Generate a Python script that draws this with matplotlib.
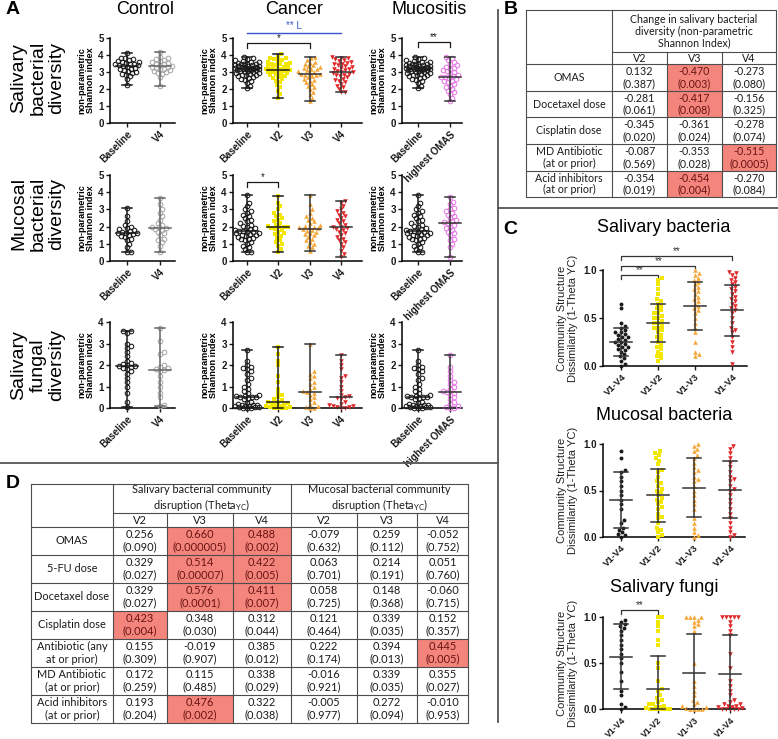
import numpy as np
import matplotlib
matplotlib.use('Agg')
import matplotlib.pyplot as plt
from matplotlib.patches import Rectangle

plt.rcParams['font.family'] = ['Liberation Sans', 'DejaVu Sans']
plt.rcParams['mathtext.fontset'] = 'custom'
plt.rcParams['mathtext.rm'] = 'Lato'

W, H = 778, 739

# ---------------- panel A data (non-parametric Shannon index) ----------------
ctrl_sal_base = [2.25, 2.6, 2.75, 2.85, 2.9, 2.95, 3.0, 3.05, 3.1, 3.15, 3.2, 3.25, 3.3, 3.35, 3.4,
                 3.4, 3.45, 3.5, 3.5, 3.55, 3.6, 3.6, 3.65, 3.7, 3.75, 3.8, 3.85, 4.1]
ctrl_sal_v4 = [2.2, 2.7, 2.9, 2.95, 3.0, 3.05, 3.1, 3.15, 3.2, 3.25, 3.3, 3.3, 3.35, 3.4, 3.45,
               3.5, 3.55, 3.6, 3.65, 3.7, 3.75, 3.8, 3.9, 4.15]
canc_sal_base = [2.05, 2.2, 2.35, 2.45, 2.55, 2.6, 2.65, 2.7, 2.75, 2.8, 2.85, 2.85, 2.9, 2.95, 2.95,
                 3.0, 3.0, 3.05, 3.05, 3.1, 3.1, 3.1, 3.15, 3.15, 3.15, 3.2, 3.2, 3.2, 3.25, 3.25,
                 3.25, 3.3, 3.3, 3.3, 3.35, 3.35, 3.35, 3.4, 3.4, 3.45, 3.45, 3.5, 3.5, 3.55, 3.6,
                 3.6, 3.65, 3.7, 3.75, 3.8, 3.9]
canc_sal_v2 = [1.5, 1.7, 1.9, 2.1, 2.25, 2.4, 2.5, 2.6, 2.65, 2.7, 2.75, 2.8, 2.85, 2.9, 2.95, 3.0,
               3.0, 3.05, 3.05, 3.1, 3.1, 3.1, 3.15, 3.15, 3.2, 3.2, 3.25, 3.3, 3.3, 3.35, 3.4, 3.45,
               3.5, 3.5, 3.55, 3.6, 3.65, 3.7, 3.75, 3.8, 3.85, 3.9, 4.05]
canc_sal_v3 = [1.3, 1.5, 1.7, 1.85, 2.0, 2.1, 2.2, 2.3, 2.4, 2.5, 2.55, 2.6, 2.7, 2.75, 2.8, 2.85,
               2.9, 2.9, 2.95, 3.0, 3.05, 3.1, 3.15, 3.2, 3.25, 3.3, 3.35, 3.4, 3.5, 3.55, 3.6,
               3.7, 3.8, 3.9]
canc_sal_v4 = [1.8, 1.85, 2.0, 2.1, 2.2, 2.3, 2.4, 2.5, 2.55, 2.6, 2.7, 2.75, 2.8, 2.85, 2.9, 2.95,
               3.0, 3.0, 3.05, 3.1, 3.15, 3.2, 3.25, 3.3, 3.35, 3.4, 3.45, 3.5, 3.55, 3.6, 3.65,
               3.7, 3.75, 3.8, 3.85, 3.9]
muc_sal_high = [1.3, 1.5, 1.7, 1.8, 1.9, 2.0, 2.1, 2.2, 2.3, 2.4, 2.45, 2.5, 2.6, 2.65, 2.7, 2.7,
                2.75, 2.8, 2.9, 3.0, 3.05, 3.1, 3.2, 3.25, 3.3, 3.4, 3.5, 3.6, 3.7, 3.8, 3.9]

ctrl_muc_base = [0.5, 0.55, 0.8, 1.0, 1.2, 1.3, 1.4, 1.45, 1.5, 1.55, 1.6, 1.65, 1.65, 1.7, 1.75,
                 1.8, 1.85, 1.9, 2.0, 2.1, 2.3, 2.6, 3.1]
ctrl_muc_v4 = [0.5, 0.9, 1.1, 1.2, 1.3, 1.5, 1.6, 1.7, 1.8, 1.85, 1.9, 1.95, 2.0, 2.1, 2.2, 2.4,
               2.6, 2.8, 3.0, 3.3, 3.65]
canc_muc_base = [0.5, 0.55, 0.7, 0.8, 0.9, 1.0, 1.1, 1.2, 1.25, 1.3, 1.35, 1.4, 1.45, 1.5, 1.5,
                 1.55, 1.6, 1.65, 1.7, 1.7, 1.75, 1.75, 1.8, 1.85, 1.9, 2.0, 2.05, 2.1, 2.2, 2.3,
                 2.4, 2.5, 2.6, 2.7, 2.8, 2.9, 3.0, 3.2, 3.4, 3.85]
canc_muc_v2 = [0.55, 0.7, 0.9, 1.0, 1.1, 1.2, 1.35, 1.45, 1.55, 1.6, 1.7, 1.8, 1.85, 1.9, 1.95, 2.0,
               2.0, 2.05, 2.1, 2.2, 2.3, 2.4, 2.5, 2.6, 2.7, 2.8, 3.0, 3.2, 3.4, 3.8]
canc_muc_v3 = [0.6, 0.8, 0.9, 1.0, 1.1, 1.2, 1.3, 1.4, 1.5, 1.55, 1.6, 1.7, 1.75, 1.8, 1.85, 1.9,
               1.95, 1.95, 2.0, 2.05, 2.1, 2.2, 2.3, 2.4, 2.5, 2.6, 2.8, 3.0, 3.3, 3.85]
canc_muc_v4 = [0.25, 0.4, 0.6, 0.8, 1.0, 1.1, 1.2, 1.3, 1.4, 1.5, 1.6, 1.7, 1.8, 1.85, 1.9, 2.0,
               2.0, 2.1, 2.2, 2.3, 2.4, 2.5, 2.6, 2.7, 2.8, 2.9, 3.0, 3.2, 3.4, 3.5]
muc_muc_high = [0.25, 0.8, 1.0, 1.2, 1.3, 1.5, 1.6, 1.7, 1.8, 1.9, 2.0, 2.1, 2.2, 2.25, 2.3, 2.4,
                2.5, 2.6, 2.7, 2.8, 2.9, 3.0, 3.1, 3.3, 3.45, 3.7]

ctrl_fun_base = [0.05, 0.3, 0.7, 1.0, 1.2, 1.4, 1.6, 1.7, 1.8, 1.85, 1.9, 1.95, 1.95, 2.0, 2.05,
                 2.1, 2.2, 2.4, 2.6, 2.8, 2.9, 3.0, 3.5, 3.6, 3.6]
ctrl_fun_v4 = [0.1, 0.15, 0.5, 0.7, 1.0, 1.2, 1.5, 1.7, 1.75, 1.8, 1.85, 1.9, 2.0, 2.5, 2.6, 3.1, 3.7]
canc_fun_base = [0.0, 0.0, 0.02, 0.03, 0.05, 0.05, 0.08, 0.1, 0.1, 0.12, 0.15, 0.15, 0.2, 0.25, 0.3,
                 0.4, 0.45, 0.5, 0.5, 0.5, 0.55, 0.55, 0.6, 0.7, 0.8, 0.9, 1.0, 1.1, 1.3, 1.4, 1.6,
                 1.7, 1.8, 1.85, 1.9, 2.0, 2.2, 2.7]
canc_fun_v2 = [0.0, 0.0, 0.0, 0.02, 0.05, 0.05, 0.08, 0.1, 0.12, 0.15, 0.2, 0.25, 0.3, 0.3, 0.35,
               0.4, 0.5, 0.6, 0.7, 0.9, 1.2, 1.5, 2.0, 2.2, 2.5, 2.85]
canc_fun_v3 = [0.0, 0.02, 0.05, 0.1, 0.2, 0.3, 0.4, 0.5, 0.6, 0.7, 0.75, 0.8, 0.9, 1.0, 1.1, 1.2,
               1.4, 1.5, 1.6, 1.7, 3.0]
canc_fun_v4 = [0.0, 0.0, 0.03, 0.05, 0.08, 0.1, 0.15, 0.2, 0.3, 0.4, 0.45, 0.5, 0.55, 0.6, 0.8, 1.0,
               1.2, 1.4, 1.5, 1.8, 2.0, 2.2, 2.45]
muc_fun_high = [0.0, 0.02, 0.05, 0.1, 0.2, 0.3, 0.4, 0.5, 0.6, 0.7, 0.75, 0.8, 0.9, 1.0, 1.1, 1.2,
                1.3, 1.5, 1.7, 1.9, 2.45]

ctrl_labels = ['Baseline', 'V4']
canc_labels = ['Baseline', 'V2', 'V3', 'V4']
muc_labels = ['Baseline', 'highest OMAS']

# ---------------- panel C data (1 - Theta YC) ----------------
c_labels = ['V1-V4', 'V1-V2', 'V1-V3', 'V1-V4']
sal_ctrl = [0.0, 0.02, 0.05, 0.08, 0.1, 0.12, 0.15, 0.17, 0.18, 0.2, 0.2, 0.22, 0.23, 0.25, 0.25,
            0.27, 0.28, 0.3, 0.3, 0.32, 0.33, 0.35, 0.35, 0.37, 0.4, 0.42, 0.45, 0.6, 0.65]
sal_v12 = [0.05, 0.08, 0.1, 0.12, 0.15, 0.18, 0.2, 0.22, 0.25, 0.28, 0.3, 0.32, 0.35, 0.37, 0.4,
           0.4, 0.42, 0.45, 0.45, 0.47, 0.5, 0.5, 0.52, 0.55, 0.55, 0.58, 0.6, 0.62, 0.65, 0.68,
           0.7, 0.75, 0.8, 0.85, 0.9, 0.92]
sal_v13 = [0.1, 0.12, 0.15, 0.25, 0.35, 0.4, 0.45, 0.5, 0.55, 0.58, 0.6, 0.62, 0.65, 0.68, 0.7,
           0.72, 0.75, 0.78, 0.8, 0.82, 0.85, 0.88, 0.9, 0.92, 0.95, 0.97, 1.0]
sal_v14 = [0.02, 0.15, 0.2, 0.25, 0.3, 0.35, 0.38, 0.4, 0.45, 0.5, 0.55, 0.58, 0.6, 0.62, 0.65,
           0.68, 0.7, 0.72, 0.75, 0.78, 0.8, 0.82, 0.85, 0.88, 0.9, 0.92, 0.95, 0.97, 0.98]
sal_mean = [0.25, 0.45, 0.62, 0.58]
sal_lo = [0.10, 0.25, 0.37, 0.31]
sal_hi = [0.40, 0.65, 0.88, 0.84]

mucb_ctrl = [0.0, 0.02, 0.03, 0.05, 0.08, 0.1, 0.15, 0.18, 0.3, 0.35, 0.4, 0.45, 0.5, 0.55, 0.6,
             0.65, 0.7, 0.72, 0.85, 0.92]
mucb_v12 = [0.0, 0.02, 0.05, 0.08, 0.1, 0.15, 0.2, 0.22, 0.25, 0.3, 0.32, 0.35, 0.38, 0.4, 0.42,
            0.45, 0.48, 0.5, 0.52, 0.55, 0.58, 0.6, 0.65, 0.7, 0.72, 0.78, 0.82, 0.85, 0.88, 0.9, 0.92]
mucb_v13 = [0.0, 0.02, 0.05, 0.1, 0.15, 0.2, 0.3, 0.35, 0.4, 0.45, 0.5, 0.55, 0.6, 0.62, 0.65,
            0.7, 0.72, 0.75, 0.8, 0.85, 0.88, 0.92, 0.95, 0.98, 1.0]
mucb_v14 = [0.0, 0.02, 0.05, 0.1, 0.15, 0.2, 0.25, 0.3, 0.35, 0.4, 0.45, 0.5, 0.52, 0.55, 0.6,
            0.62, 0.65, 0.7, 0.75, 0.8, 0.85, 0.9, 0.95, 0.98]
mucb_mean = [0.40, 0.45, 0.53, 0.51]
mucb_lo = [0.10, 0.16, 0.21, 0.20]
mucb_hi = [0.70, 0.73, 0.85, 0.82]

fun_ctrl = [0.0, 0.02, 0.05, 0.15, 0.2, 0.3, 0.4, 0.5, 0.55, 0.6, 0.65, 0.7, 0.75, 0.8, 0.85,
            0.88, 0.9, 0.92, 0.95, 0.97]
fun_v12 = [0.0, 0.0, 0.0, 0.0, 0.0, 0.0, 0.01, 0.02, 0.02, 0.03, 0.05, 0.05, 0.08, 0.1, 0.12,
           0.15, 0.2, 0.22, 0.3, 0.45, 0.5, 0.7, 0.75, 0.85, 0.9, 0.95, 1.0, 1.0]
fun_v13 = [0.0, 0.0, 0.0, 0.0, 0.01, 0.02, 0.03, 0.05, 0.08, 0.1, 0.15, 0.2, 0.25, 0.3, 0.5,
           0.85, 0.9, 0.92, 0.95, 0.97, 1.0, 1.0, 1.0, 1.0]
fun_v14 = [0.0, 0.0, 0.0, 0.0, 0.0, 0.01, 0.02, 0.02, 0.03, 0.03, 0.05, 0.05, 0.08, 0.1, 0.15,
           0.2, 0.25, 0.3, 0.45, 0.6, 0.8, 0.85, 0.9, 0.95, 1.0, 1.0, 1.0, 1.0, 1.0]
fun_mean = [0.57, 0.22, 0.39, 0.38]
fun_lo = [0.22, 0.0, 0.0, 0.0]
fun_hi = [0.92, 0.58, 0.81, 0.80]

# ---------------- table B ----------------
b_cols = ['V2', 'V3', 'V4']
b_rows = ['OMAS', 'Docetaxel dose', 'Cisplatin dose', 'MD Antibiotic\n(at or prior)',
          'Acid inhibitors\n(at or prior)']
b_r = [['0.132', '-0.470', '-0.273'], ['-0.281', '-0.417', '-0.156'], ['-0.345', '-0.361', '-0.278'],
       ['-0.087', '-0.353', '-0.515'], ['-0.354', '-0.454', '-0.270']]
b_p = [['0.387', '0.003', '0.080'], ['0.061', '0.008', '0.325'], ['0.020', '0.024', '0.074'],
       ['0.569', '0.028', '0.0005'], ['0.019', '0.004', '0.084']]

# ---------------- table D ----------------
d_cols = ['V2', 'V3', 'V4', 'V2', 'V3', 'V4']
d_rows = ['OMAS', '5-FU dose', 'Docetaxel dose', 'Cisplatin dose', 'Antibiotic (any\nat or prior)',
          'MD Antibiotic\n(at or prior)', 'Acid inhibitors\n(at or prior)']
d_r = [['0.256', '0.660', '0.488', '-0.079', '0.259', '-0.052'],
       ['0.329', '0.514', '0.422', '0.063', '0.214', '0.051'],
       ['0.329', '0.576', '0.411', '0.058', '0.148', '-0.060'],
       ['0.423', '0.348', '0.312', '0.121', '0.339', '0.152'],
       ['0.155', '-0.019', '0.385', '0.222', '0.394', '0.445'],
       ['0.172', '0.115', '0.338', '-0.016', '0.339', '0.355'],
       ['0.193', '0.476', '0.322', '-0.005', '0.272', '-0.010']]
d_p = [['0.090', '0.000005', '0.002', '0.632', '0.112', '0.752'],
       ['0.027', '0.00007', '0.005', '0.701', '0.191', '0.760'],
       ['0.027', '0.0001', '0.007', '0.725', '0.368', '0.715'],
       ['0.004', '0.030', '0.044', '0.464', '0.035', '0.357'],
       ['0.309', '0.907', '0.012', '0.174', '0.013', '0.005'],
       ['0.259', '0.485', '0.029', '0.921', '0.035', '0.027'],
       ['0.204', '0.002', '0.038', '0.977', '0.094', '0.953']]

BLACK = '#1a1a1a'
GRAY = '#a9a9a9'
YELLOW = '#f3e600'
ORANGE = '#f6a73a'
RED = '#e0292b'
MAGENTA = '#e679e6'
BLUE = '#3a55d0'
HILITE = '#f3857c'

st_base = dict(marker='o', mfc='none', mec=BLACK, mew=0.75, ms=3.3)
st_ctrl4 = dict(marker='o', mfc='none', mec=GRAY, mew=0.75, ms=3.3)
st_v2 = dict(marker='s', mfc=YELLOW, mec=YELLOW, mew=0, ms=2.9)
st_v3 = dict(marker='^', mfc=ORANGE, mec=ORANGE, mew=0, ms=3.3)
st_v4 = dict(marker='v', mfc=RED, mec=RED, mew=0, ms=3.3)
st_high = dict(marker='o', mfc='none', mec=MAGENTA, mew=0.75, ms=3.3)
st_dot = dict(marker='o', mfc=BLACK, mec=BLACK, mew=0, ms=2.8)

fig = plt.figure(figsize=(W / 100, H / 100), dpi=100)


def px_axes(x0, y0, x1, y1):
    return fig.add_axes([x0 / W, 1 - y1 / H, (x1 - x0) / W, (y1 - y0) / H])


def swarm(ys, px_y, d=3.8, maxw=12):
    # deterministic beeswarm offsets in pixels
    ys = np.asarray(ys, float)
    offs = np.zeros(len(ys))
    placed = []
    cands = [0.0]
    for k in range(1, int(maxw) + 1):
        cands += [float(k), float(-k)]
    for i in np.argsort(ys, kind='stable'):
        y = ys[i] * px_y
        best, best_d = 0.0, -1.0
        for c in cands:
            if placed:
                p = np.array(placed)
                md = np.min(np.hypot(p[:, 0] - c, p[:, 1] - y))
            else:
                md = np.inf
            if md >= d:
                best = c
                break
            if md > best_d:
                best, best_d = c, md
        offs[i] = best
        placed.append((best, y))
    return offs


def dot_panel(box, xlim, ylim, yticks, groups, styles, labels, centers, los, his, barc,
              ylabel, ylabel_kw, maxw=12, ytl=None, half=11, cap=5, xfs=7):
    ax = px_axes(*box)
    x0, y0, x1, y1 = box
    pxx = (x1 - x0) / (xlim[1] - xlim[0])
    pxy = (y1 - y0) / (ylim[1] - ylim[0])
    for k, (ys, st) in enumerate(zip(groups, styles)):
        offs = swarm(ys, pxy, 3.8, maxw)
        ax.plot(k + offs / pxx, ys, ls='none', clip_on=False, zorder=3, **st)
        bc = barc[k]
        ax.plot([k, k], [los[k], his[k]], color=bc, lw=1.1, zorder=4, clip_on=False)
        for yy in (los[k], his[k]):
            ax.plot([k - cap / pxx, k + cap / pxx], [yy, yy], color=bc, lw=1.1, zorder=4, clip_on=False)
        ax.plot([k - half / pxx, k + half / pxx], [centers[k], centers[k]], color=bc, lw=1.1,
                zorder=4, clip_on=False)
    ax.set_xlim(xlim)
    ax.set_ylim(ylim)
    ax.set_yticks(yticks)
    if ytl is not None:
        ax.set_yticklabels(ytl)
    ax.set_xticks(range(len(groups)))
    ax.set_xticklabels(labels, rotation=45, ha='right', va='top', rotation_mode='anchor',
                       fontweight='bold', fontsize=xfs)
    for lab in ax.get_yticklabels():
        lab.set_fontweight('bold')
        lab.set_fontsize(7)
    ax.tick_params(length=3, width=1, pad=1.5, colors=BLACK)
    ax.spines[['top', 'right']].set_visible(False)
    ax.spines[['left', 'bottom']].set_linewidth(1.1)
    ax.patch.set_alpha(0)
    ax.set_ylabel(ylabel, **ylabel_kw)
    return ax


def bracket(ax, xa, xb, y, drop, text, color=BLACK, fs=7):
    ax.plot([xa, xa, xb, xb], [y - drop, y, y, y - drop], color=color, lw=0.9, clip_on=False)
    ax.text((xa + xb) / 2, y, text, ha='center', va='bottom', fontsize=fs, color=color)


a_ylab = 'non-parametric\nShannon index'
a_kw = dict(fontsize=6.6, fontweight='bold', labelpad=2, linespacing=1.05)


def a_stats(groups):
    return ([np.median(g) for g in groups], [min(g) for g in groups], [max(g) for g in groups])


rows_A = [
    ((38, 123), (0, 5), range(6),
     [ctrl_sal_base, ctrl_sal_v4], [canc_sal_base, canc_sal_v2, canc_sal_v3, canc_sal_v4],
     [canc_sal_base, muc_sal_high]),
    ((175, 261), (0, 5), range(6),
     [ctrl_muc_base, ctrl_muc_v4], [canc_muc_base, canc_muc_v2, canc_muc_v3, canc_muc_v4],
     [canc_muc_base, muc_muc_high]),
    ((322, 408), (0, 4), range(5),
     [ctrl_fun_base, ctrl_fun_v4], [canc_fun_base, canc_fun_v2, canc_fun_v3, canc_fun_v4],
     [canc_fun_base, muc_fun_high]),
]

a_axes = []
for (ytop, ybot), ylim, yt, g_ctrl, g_canc, g_muc in rows_A:
    ac = dot_panel((110, ytop, 175, ybot), (-0.52, 1.45), ylim, yt, g_ctrl, [st_base, st_ctrl4],
                   ctrl_labels, *a_stats(g_ctrl), [BLACK, '#666666'], a_ylab, a_kw)
    an = dot_panel((233, ytop, 362, ybot), (-0.45, 3.67), ylim, yt, g_canc,
                   [st_base, st_v2, st_v3, st_v4], canc_labels, *a_stats(g_canc),
                   [BLACK, BLACK, '#333333', '#333333'], a_ylab, a_kw)
    am = dot_panel((402, ytop, 462, ybot), (-0.5, 1.38), ylim, yt, g_muc, [st_base, st_high],
                   muc_labels, *a_stats(g_muc), [BLACK, '#333333'], a_ylab, a_kw)
    a_axes.append((ac, an, am))

# significance marks in A
an1 = a_axes[0][1]
bracket(an1, 0, 2, 4.7, 0.3, '*')
an1.plot([0, 3], [5.29, 5.29], color=BLUE, lw=1.0, clip_on=False)
an1.text(1.5, 5.72, '** L', color=BLUE, fontsize=7, ha='center', va='center')
bracket(a_axes[0][2], 0, 1, 4.76, 0.3, '**')
bracket(a_axes[1][1], 0, 1, 4.59, 0.3, '*')

# ---------------- panel C ----------------
c_ylab = 'Community Structure\nDissimilarity (1-Theta YC)'
c_kw = dict(fontsize=8, labelpad=4, linespacing=1.1, color='#222222')
c_styles = [st_dot, st_v2, st_v3, st_v4]
c_bars = ['#333333'] * 4
c_ticks = [0.0, 0.5, 1.0]
c_tl = ['0.0', '0.5', '1.0']

c1 = dot_panel((603, 270, 747, 366), (-0.5, 3.4), (0, 1), c_ticks,
               [sal_ctrl, sal_v12, sal_v13, sal_v14], c_styles, c_labels,
               sal_mean, sal_lo, sal_hi, c_bars, c_ylab, c_kw, ytl=c_tl, cap=7, xfs=6.8)
bracket(c1, 0, 1, 0.948, 0.04, '**', color='#333333')
bracket(c1, 0, 2, 1.042, 0.04, '**', color='#333333')
bracket(c1, 0, 3, 1.146, 0.04, '**', color='#333333')

c2 = dot_panel((603, 444, 745, 537), (-0.5, 3.4), (0, 1), c_ticks,
               [mucb_ctrl, mucb_v12, mucb_v13, mucb_v14], c_styles, c_labels,
               mucb_mean, mucb_lo, mucb_hi, c_bars, c_ylab, c_kw, ytl=c_tl, cap=7, xfs=6.8)

c3 = dot_panel((603, 617, 745, 709), (-0.5, 3.4), (0, 1), c_ticks,
               [fun_ctrl, fun_v12, fun_v13, fun_v14], c_styles, c_labels,
               fun_mean, fun_lo, fun_hi, c_bars, c_ylab, c_kw, ytl=c_tl, cap=7, xfs=6.3)
bracket(c3, 0, 1, 1.075, 0.04, '**', color='#333333')

# ---------------- overlay: titles, separators, tables ----------------
ov = fig.add_axes([0, 0, 1, 1])
ov.set_xlim(0, W)
ov.set_ylim(H, 0)
ov.axis('off')
ov.patch.set_alpha(0)

for x, t in [(145, 'Control'), (294, 'Cancer'), (429, 'Mucositis')]:
    ov.text(x, 10, t, fontsize=13, ha='center', va='center')
for y, t in [(78, 'Salivary\nbacterial\ndiversity'), (214, 'Mucosal\nbacterial\ndiversity'),
             (365, 'Salivary\nfungal\ndiversity')]:
    ov.text(38, y, t, fontsize=14, rotation=90, ha='center', va='center', linespacing=1.15,
            multialignment='center')
for x, y, t in [(13, 9, 'A'), (511, 9, 'B'), (510, 229, 'C'), (13, 484, 'D')]:
    ov.text(x, y, t, fontsize=14, fontweight='bold', ha='center', va='center')
for x, y, t in [(664, 228, 'Salivary bacteria'), (664, 416, 'Mucosal bacteria'),
                (664, 587, 'Salivary fungi')]:
    ov.text(x, y, t, fontsize=13, ha='center', va='center')

sep = dict(color='#555555', lw=1.3)
ov.plot([498, 498], [10, 722], **sep)
ov.plot([0, 498], [463, 463], **sep)
ov.plot([498, 778], [208, 208], **sep)


def draw_table(cols, rows, groups, sub, labels, rv, pv, fs, ls):
    tf = dict(family=['Lato', 'DejaVu Sans'], fontsize=fs, ha='center', va='center',
              linespacing=ls)
    lc = dict(color='#4d4d4d', lw=0.8)
    for i in range(len(labels)):
        ya, yb = rows[i + 2], rows[i + 3]
        ov.text((cols[0] + cols[1]) / 2, (ya + yb) / 2, labels[i], color=BLACK, **tf)
        for j in range(len(rv[i])):
            xa, xb = cols[j + 1], cols[j + 2]
            hi = float(pv[i][j]) < 0.01
            if hi:
                ov.add_patch(Rectangle((xa, ya), xb - xa, yb - ya, fc=HILITE, ec='none', zorder=1))
            ov.text((xa + xb) / 2, (ya + yb) / 2, f'{rv[i][j]}\n({pv[i][j]})',
                    color='#6a1414' if hi else BLACK, zorder=3, **tf)
    for text, a, b in groups:
        ov.text((cols[a] + cols[b + 1]) / 2, (rows[0] + rows[1]) / 2, text, color=BLACK, **tf)
    for j, s in enumerate(sub):
        ov.text((cols[j + 1] + cols[j + 2]) / 2, (rows[1] + rows[2]) / 2, s, color=BLACK, **tf)
    # grid lines
    ov.plot([cols[0], cols[-1], cols[-1], cols[0], cols[0]],
            [rows[0], rows[0], rows[-1], rows[-1], rows[0]], zorder=4, **lc)
    ov.plot([cols[1], cols[1]], [rows[0], rows[-1]], zorder=4, **lc)
    group_edges = [b + 1 for _, _, b in groups]
    for c in range(2, len(cols) - 1):
        top = rows[0] if c in group_edges else rows[1]
        ov.plot([cols[c], cols[c]], [top, rows[-1]], zorder=4, **lc)
    ov.plot([cols[1], cols[-1]], [rows[1], rows[1]], zorder=4, **lc)
    for r in rows[2:-1]:
        ov.plot([cols[0], cols[-1]], [r, r], zorder=4, **lc)


draw_table([526, 612, 667, 722, 776], [10, 52, 64, 91, 117, 144, 171, 197],
           [('Change in salivary bacterial\ndiversity (non-parametric\nShannon Index)', 1, 3)],
           b_cols, b_rows, b_r, b_p, 7.7, 1.1)

draw_table([31, 113, 167, 233, 291, 357, 417, 468],
           [484, 513, 527, 555, 583, 611, 639, 667, 695, 723],
           [('Salivary bacterial community\ndisruption (Theta$_{\\mathregular{YC}}$)', 1, 3),
            ('Mucosal bacterial community\ndisruption (Theta$_{\\mathregular{YC}}$)', 4, 6)],
           d_cols, d_rows, d_r, d_p, 7.9, 1.15)

fig.savefig('out.png', dpi=100)
